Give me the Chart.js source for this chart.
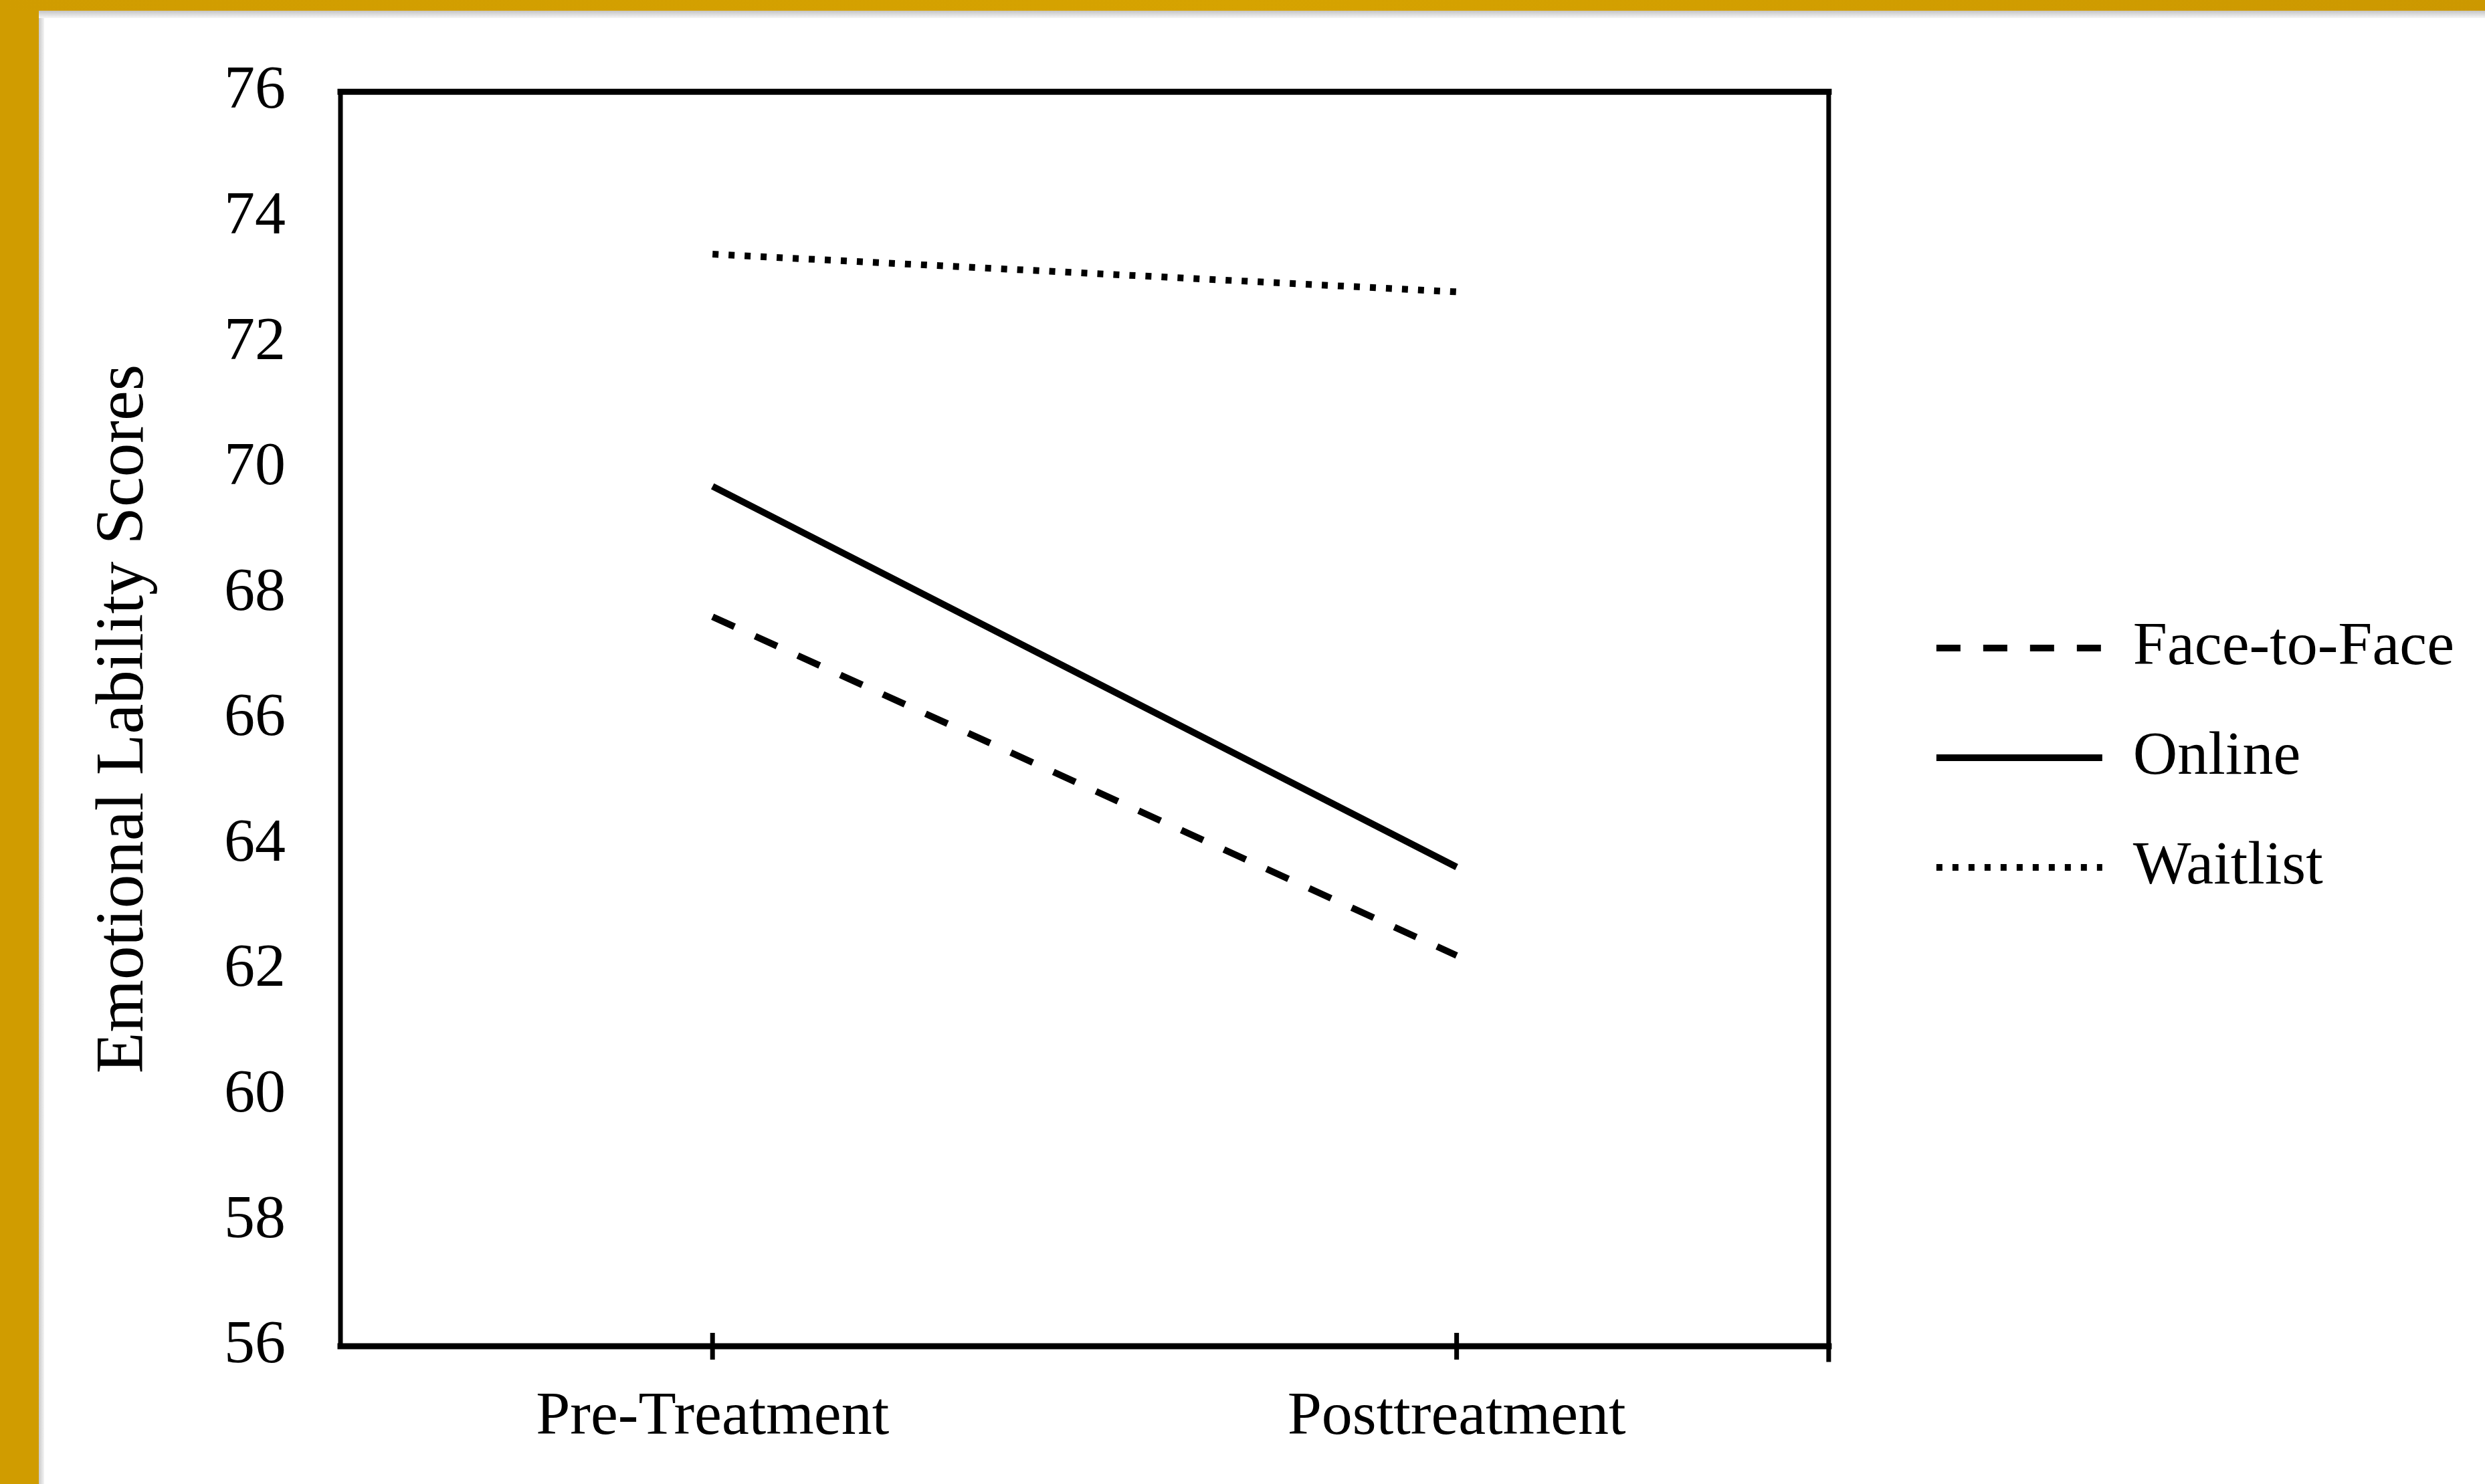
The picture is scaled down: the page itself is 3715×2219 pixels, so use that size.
<!DOCTYPE html>
<html>
<head>
<meta charset="utf-8">
<title>Emotional Lability Scores</title>
<script src="https://cdn.jsdelivr.net/npm/chart.js@4.4.1/dist/chart.umd.min.js"></script>
<style>
    html, body { margin: 0; padding: 0; background: #fff; }
    body { width: 3715px; height: 2219px; position: relative; overflow: hidden; }
    .gold-left { position: absolute; left: 0; top: 0; width: 58px; height: 2219px; background: #d09c00; }
    .gold-top { position: absolute; left: 0; top: 0; width: 3715px; height: 16px; background: linear-gradient(90deg, #d09c00, #d6a300 50%, #cc9800); }
    .shade-left { position: absolute; left: 58px; top: 16px; width: 8px; height: 2203px; background: linear-gradient(90deg, #c9c9c9, #f4f4f4); }
    .shade-top { position: absolute; left: 58px; top: 16px; width: 3657px; height: 11px; background: linear-gradient(180deg, #c4c4c4, #f6f6f6); }
    #wrap { position: absolute; left: 0; top: 0; width: 3715px; height: 2219px; }
</style>
</head>
<body>
<div class="gold-left"></div>
<div class="gold-top"></div>
<div class="shade-left"></div>
<div class="shade-top"></div>
<div id="wrap"><canvas id="chart"></canvas></div>
<script>
// Data
const timePoints = ['Pre-Treatment', 'Posttreatment'];
const faceToFace = [67.63, 62.23];
const online = [69.71, 63.64];
const waitlist = [73.41, 72.81];
const yMin = 56;
const yMax = 76;
const yStep = 2;

const serif = "'Liberation Serif', 'Times New Roman', serif";
Chart.defaults.font.family = serif;
Chart.defaults.color = '#000';

// Box round the plot plus the small category ticks that cross the x axis
const frame = {
    id: 'frame',
    afterDraw(chart) {
        const { ctx, chartArea: a, scales: { x } } = chart;
        ctx.save();
        ctx.strokeStyle = '#000';
        ctx.setLineDash([]);
        ctx.lineCap = 'square';
        ctx.lineWidth = 7;
        ctx.beginPath();
        ctx.moveTo(a.left, a.top);
        ctx.lineTo(a.left, a.bottom);
        ctx.moveTo(a.right, a.top);
        ctx.lineTo(a.right, a.bottom + 20);
        ctx.stroke();
        ctx.lineWidth = 9;
        ctx.beginPath();
        ctx.moveTo(a.left, a.top);
        ctx.lineTo(a.right, a.top);
        ctx.moveTo(a.left, a.bottom);
        ctx.lineTo(a.right, a.bottom);
        ctx.stroke();
        ctx.lineWidth = 7;
        ctx.lineCap = 'butt';
        ctx.beginPath();
        timePoints.forEach((t, i) => {
            const px = x.getPixelForValue(i);
            ctx.moveTo(px, a.bottom - 20);
            ctx.lineTo(px, a.bottom + 20);
        });
        ctx.stroke();
        ctx.restore();
    }
};

const ctx = document.getElementById('chart').getContext('2d');
new Chart(ctx, {
    type: 'line',
    data: {
        labels: timePoints,
        datasets: [
            { label: 'Face-to-Face', data: faceToFace, borderDash: [36, 34] },
            { label: 'Online', data: online, borderDash: [] },
            { label: 'Waitlist', data: waitlist, borderDash: [9, 15] }
        ].map(d => Object.assign({
            borderColor: '#000',
            backgroundColor: '#000',
            borderWidth: 10,
            borderCapStyle: 'butt',
            pointRadius: 0,
            tension: 0,
            fill: false
        }, d))
    },
    options: {
        responsive: true,
        maintainAspectRatio: false,
        animation: false,
        layout: { padding: { left: 70, top: 133, right: 36, bottom: 0 } },
        scales: {
            x: {
                type: 'category',
                offset: true,
                grid: { display: false, drawTicks: false },
                border: { display: false },
                ticks: { font: { size: 92 }, color: '#000', padding: 52 },
                afterFit: s => { s.height = 206; }
            },
            y: {
                min: yMin,
                max: yMax,
                grid: { display: false, drawTicks: false },
                border: { display: false },
                ticks: { stepSize: yStep, font: { size: 92 }, color: '#000', padding: 82 },
                title: {
                    display: true,
                    text: 'Emotional Lability Scores',
                    font: { size: 101 },
                    color: '#000',
                    padding: { top: 56, bottom: 0 }
                },
                afterFit: s => { s.width = 439; }
            },
            gap: {
                type: 'linear',
                position: 'right',
                display: true,
                grid: { display: false, drawTicks: false },
                border: { display: false },
                ticks: { display: false },
                afterFit: s => { s.width = 89; }
            }
        },
        plugins: {
            tooltip: { enabled: false },
            legend: {
                position: 'right',
                align: 'center',
                fullSize: false,
                maxWidth: 1000,
                title: { display: true, text: ' ', font: { size: 10 }, padding: { top: 52, bottom: 52 } },
                labels: {
                    usePointStyle: true,
                    pointStyleWidth: 248,
                    padding: 72,
                    color: '#000',
                    font: { size: 92 },
                    generateLabels: chart => chart.data.datasets.map((d, i) => ({
                        text: d.label,
                        fillStyle: d.borderColor,
                        strokeStyle: d.borderColor,
                        lineWidth: d.borderWidth,
                        lineDash: d.borderDash,
                        lineCap: 'butt',
                        pointStyle: 'line',
                        fontColor: '#000',
                        hidden: false,
                        datasetIndex: i
                    }))
                }
            }
        }
    },
    plugins: [frame]
});
</script>
</body>
</html>
